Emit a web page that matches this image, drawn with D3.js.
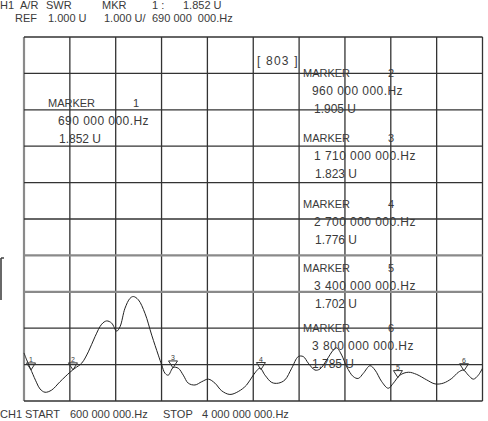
<!DOCTYPE html>
<html>
<head>
<meta charset="utf-8">
<script src="https://cdn.jsdelivr.net/npm/d3@7"></script>
<style>
  html, body { margin: 0; padding: 0; background: #fff; }
  svg { display: block; }
  text { font-family: "Liberation Sans", Arial, sans-serif; fill: #3a3a3a; }
</style>
</head>
<body>
<svg id="chart" width="488" height="421"></svg>
<script>
// ---- data ----
const startFreq = 600;   // MHz
const stopFreq = 4000;   // MHz
const refValue = 1.0;    // U at bottom graticule line
const perDiv = 1.0;      // U / div
const divisions = 10;

const traceFreq = [600,620,657,694,719,756,805,867,941,978,1028,1077,1127,1176,1213,1250,1287,1312,1349,1386,1411,1448,1497,1547,1596,1621,1646,1670,1707,1744,1781,1818,1868,1918,1967,2016,2066,2127,2189,2251,2300,2350,2387,2437,2486,2535,2585,2634,2671,2708,2758,2795,2845,2894,2919,2956,2993,3042,3079,3116,3166,3203,3253,3301,3339,3388,3450,3512,3586,3648,3709,3772,3821,3858,3895,3932,3969,4000];
const traceSWR = [2.32,2.13,1.81,1.50,1.33,1.24,1.30,1.53,1.79,1.90,2.04,2.35,2.77,3.11,3.20,3.14,2.92,3.04,3.55,3.82,3.87,3.78,3.41,2.81,2.26,1.99,1.76,1.71,1.92,1.90,1.71,1.49,1.44,1.53,1.60,1.49,1.28,1.18,1.26,1.44,1.71,1.90,1.71,1.51,1.49,1.58,1.90,2.22,2.22,2.04,1.85,1.88,2.13,2.40,2.46,2.26,1.94,1.67,1.62,1.76,1.97,1.85,1.53,1.35,1.49,1.71,1.79,1.73,1.58,1.47,1.49,1.62,1.79,1.85,1.71,1.60,1.71,1.90];

const markerNum = ["1","2","3","4","5","6"];
const markerFreqText = ["690 000 000.Hz","960 000 000.Hz","1 710 000 000.Hz","2 700 000 000.Hz","3 400 000 000.Hz","3 800 000 000.Hz"];
const markerValueText = ["1.852 U","1.905 U","1.823 U","1.776 U","1.702 U","1.785 U"];
const markerPosFreq = [652, 963, 1705, 2357, 3373, 3863];   // where the symbols sit on the trace

const headerLine1 = [["H1",0],["A/R",20],["SWR",46],["MKR",102],["1 :",152],["1.852 U",183]];
const headerLine2 = [["REF",15],["1.000 U",48],["1.000 U/",104],["690 000  000.Hz",152]];
const footerLine = [["CH1",0],["START",25],["600 000 000.Hz",70],["STOP",163],["4 000 000 000.Hz",202]];

// ---- scales ----
const svg = d3.select("#chart");
const x = d3.scaleLinear().domain([startFreq, stopFreq]).range([24, 482.5]);
const y = d3.scaleLinear().domain([refValue, refValue + perDiv * divisions]).range([401, 37]);

// ---- graticule ----
const grid = svg.append("g");
const xDivs = d3.range(0, divisions + 1).map(i => startFreq + i * (stopFreq - startFreq) / divisions);
const yDivs = d3.range(0, divisions + 1).map(i => refValue + i * perDiv);
const grayY = [4, 3]; // divisions from bottom drawn lighter
grid.selectAll("line.v").data(xDivs).join("line")
  .attr("x1", d => x(d)).attr("x2", d => x(d))
  .attr("y1", y(yDivs[0])).attr("y2", y(yDivs[divisions]))
  .attr("stroke", (d, i) => i === 0 ? "#8a8a8a" : "#333")
  .attr("stroke-width", (d, i) => i === 0 ? 2.2 : 1.3);
grid.selectAll("line.h").data(yDivs).join("line")
  .attr("x1", x(startFreq)).attr("x2", x(stopFreq))
  .attr("y1", d => y(d)).attr("y2", d => y(d))
  .attr("stroke", (d, i) => grayY.includes(i) ? "#8a8a8a" : "#333")
  .attr("stroke-width", (d, i) => grayY.includes(i) ? 2.2 : 1.3);

// left edge bracket fragment
svg.append("path").attr("d", "M1,258 L1,300 M1,258 L4,258")
  .attr("stroke", "#444").attr("stroke-width", 1.6).attr("fill", "none");

// ---- trace ----
const traceData = traceFreq.map((f, i) => [f, traceSWR[i]]);
svg.append("path")
  .datum(traceData)
  .attr("d", d3.line().x(d => x(d[0])).y(d => y(d[1])).curve(d3.curveCatmullRom.alpha(0.5)))
  .attr("fill", "none").attr("stroke", "#222").attr("stroke-width", 1);

// ---- marker symbols ----
function traceAt(f) {
  const i = d3.bisectLeft(traceFreq, f);
  if (i <= 0) return traceSWR[0];
  if (i >= traceFreq.length) return traceSWR[traceSWR.length - 1];
  const t = (f - traceFreq[i - 1]) / (traceFreq[i] - traceFreq[i - 1]);
  return traceSWR[i - 1] + t * (traceSWR[i] - traceSWR[i - 1]);
}
const mk = svg.append("g");
markerPosFreq.forEach((f, i) => {
  const cx = x(f), cy = y(traceAt(f));
  mk.append("path")
    .attr("d", `M${cx - 4.5},${cy - 7} L${cx + 4.5},${cy - 7} L${cx},${cy} Z`)
    .attr("fill", "none").attr("stroke", "#333").attr("stroke-width", 1);
  mk.append("text").attr("x", cx).attr("y", cy - 8).attr("text-anchor", "middle")
    .style("font-size", "7px").text(markerNum[i]);
});

// ---- header / footer ----
svg.selectAll("text.h1").data(headerLine1).join("text")
  .attr("x", d => d[1]).attr("y", 9).style("font-size", "11px").text(d => d[0]);
svg.selectAll("text.h2").data(headerLine2).join("text")
  .attr("x", d => d[1]).attr("y", 22).style("font-size", "11px")
  .style("white-space", "pre").attr("xml:space", "preserve").text(d => d[0]);
svg.selectAll("text.f").data(footerLine).join("text")
  .attr("x", d => d[1]).attr("y", 418).style("font-size", "11px").text(d => d[0]);

// ---- annotation block ----
svg.append("text").attr("x", 257).attr("y", 65).style("font-size", "12px")
  .style("letter-spacing", "1.2px").style("white-space", "pre").text("[ 803 ]");

const blocks = [
  {i: 0, mx: 48, top: 107, fx: 58, vx: 59},
  {i: 1, mx: 303, top: 77, fx: 312, vx: 314},
  {i: 2, mx: 303, top: 142, fx: 314, vx: 315},
  {i: 3, mx: 303, top: 208, fx: 314, vx: 315},
  {i: 4, mx: 303, top: 272, fx: 314, vx: 315},
  {i: 5, mx: 303, top: 332, fx: 312, vx: 312}
];
const ann = svg.append("g");
blocks.forEach(b => {
  ann.append("text").attr("x", b.mx).attr("y", b.top).style("font-size", "11px").text("MARKER");
  ann.append("text").attr("x", b.mx + 85).attr("y", b.top).style("font-size", "11px").text(markerNum[b.i]);
  ann.append("text").attr("x", b.fx).attr("y", b.top + 18).style("font-size", "12px")
    .style("letter-spacing", "0.45px").text(markerFreqText[b.i]);
  ann.append("text").attr("x", b.vx).attr("y", b.top + 36).style("font-size", "12px").text(markerValueText[b.i]);
});
</script>
</body>
</html>
